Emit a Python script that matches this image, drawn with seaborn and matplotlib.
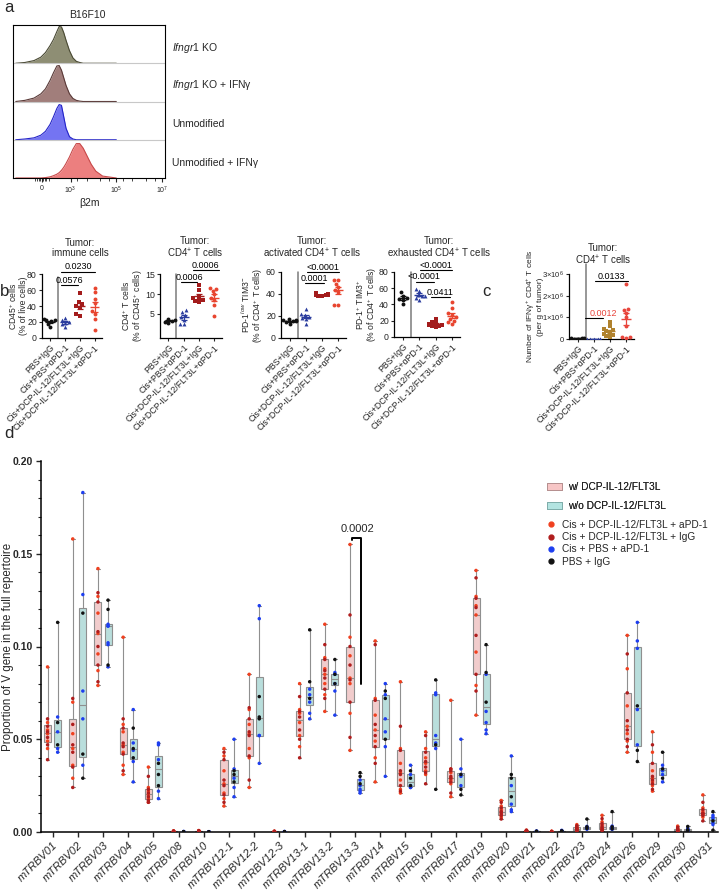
import numpy as np
import pandas as pd
import matplotlib
matplotlib.use("Agg")
import matplotlib.pyplot as plt
import seaborn as sns
from matplotlib.patches import Patch
from matplotlib.lines import Line2D
from matplotlib.ticker import AutoMinorLocator

sns.set_style("ticks")
plt.rcParams['font.family'] = ['Liberation Sans', 'DejaVu Sans']
plt.rcParams['mathtext.fontset'] = 'custom'
plt.rcParams['mathtext.rm'] = 'Liberation Sans'
plt.rcParams['mathtext.it'] = 'Liberation Sans:italic'
plt.rcParams['mathtext.bf'] = 'Liberation Sans:bold'

# ---------------- panel a: flow histograms (height as fraction of row) ----------------
hist_x = [0.6, 1.0, 1.4, 1.7, 1.9, 2.1, 2.25, 2.4, 2.5, 2.6, 2.7, 2.8, 2.95, 3.1, 3.25,
          3.4, 3.55, 3.7, 3.9, 4.1, 4.4, 5.0]
hist_ko = [0, .02, .07, .16, .28, .46, .62, .83, .96, .95, .80, .60, .33, .14, .05, .02, 0, 0, 0, 0, 0, 0]
hist_ko_ifng = [0, .03, .09, .20, .33, .55, .75, .93, .94, .82, .62, .42, .20, .08, .03, .01, 0, 0, 0, 0, 0, 0]
hist_unmod = [0, .02, .05, .12, .22, .40, .60, .82, .92, .90, .60, .30, .08, .02, 0, 0, 0, 0, 0, 0, 0, 0]
hist_unmod_ifng = [0, 0, 0, 0, .01, .03, .06, .10, .14, .20, .28, .38, .55, .75, .90, .90, .78, .60, .36, .18, .05, 0]
hist_labels = [r"$\mathit{Ifngr1}$ KO", r"$\mathit{Ifngr1}$ KO + IFNγ", "Unmodified", "Unmodified + IFNγ"]
hist_ticks = ["0", r"$10^3$", r"$10^5$", r"$10^7$"]

# ---------------- panel b / c: scatter dot plots ----------------
groups = ["PBS+IgG", "Cis+PBS+αPD-1", "Cis+DCP-IL-12/FLT3L+IgG", "Cis+DCP-IL-12/FLT3L+αPD-1"]
cd45_live = [[24, 23, 22, 21, 18, 14], [25, 22, 20, 19, 17, 14],
             [56, 45, 42, 40, 38, 30, 28], [62, 57, 49, 44, 34, 30, 24, 10]]
cd4_cd45 = [[3.8, 3.5, 3.3, 3.1, 2.8], [6.0, 5.5, 4.8, 4.3, 3.5, 2.5, 2.4],
            [12.3, 10.9, 9.3, 8.9, 8.5, 8.2, 8.0], [11.6, 11.3, 10.8, 9.9, 9.0, 8.5, 7.2, 4.6]]
activated = [[17, 16.5, 16, 15.5, 15, 14.5, 12.5], [26, 22, 21, 19.5, 18, 17, 13],
             [40.5, 40, 39.5, 39, 38.8, 38.5, 38], [53, 53, 49, 46, 44, 42, 30, 30]]
exhausted = [[55, 51, 48, 47, 46, 40], [59, 57, 52, 51, 50, 48, 46],
             [22, 18, 17, 16, 15, 15, 14, 13, 12], [43, 36, 29, 27, 24, 22, 20, 18, 16]]
ifng_cd4 = [[0.06e6, 0.04e6, 0.03e6, 0.02e6, 0.01e6], [0.01e6, 0.005e6, 0, 0, 0, 0.01e6],
            [0.80e6, 0.60e6, 0.45e6, 0.40e6, 0.35e6, 0.30e6, 0.25e6, 0.20e6, 0.15e6, 0.10e6],
            [2.55e6, 1.40e6, 1.35e6, 1.20e6, 1.00e6, 0.60e6, 0.08e6, 0.08e6, 0.05e6]]

# ---------------- panel d: V gene usage (values x 1e-3) ----------------
genes = ["mTRBV01", "mTRBV02", "mTRBV03", "mTRBV04", "mTRBV05", "mTRBV08", "mTRBV10",
         "mTRBV12-1", "mTRBV12-2", "mTRBV12-3", "mTRBV13-1", "mTRBV13-2", "mTRBV13-3",
         "mTRBV14", "mTRBV15", "mTRBV16", "mTRBV17", "mTRBV19", "mTRBV20", "mTRBV21",
         "mTRBV22", "mTRBV23", "mTRBV24", "mTRBV26", "mTRBV29", "mTRBV30", "mTRBV31"]
dcp_apd1 = [
    [89, 59, 55, 53, 49, 45], [158, 70, 53, 45, 36, 29], [142, 127, 118, 107, 96, 87, 79],
    [105, 58, 54, 47, 43, 36, 31], [35, 24, 22, 20, 18, 16], [0.6, 0.4, 0.3, 0.2, 0.2, 0.1],
    [0.8, 0.6, 0.4, 0.3, 0.2, 0.1], [45, 41, 33, 26, 21, 18, 14], [85, 66, 58, 53, 45, 40, 24],
    [0.4, 0.3, 0.2, 0.2, 0.1, 0.1], [80, 66, 64, 59, 52, 46], [112, 94, 88, 85, 80, 74, 65],
    [155, 105, 95, 83, 80, 64, 44], [103, 72, 63, 55, 49, 40, 27], [81, 45, 37, 32, 28, 23, 21],
    [54, 45, 40, 37, 33, 31], [71, 34, 32, 29, 28, 26, 19], [141, 127, 122, 117, 97, 79, 63],
    [17, 14, 12, 11, 9, 8], [1.0, 0.8, 0.6, 0.5, 0.4, 0.3], [0.4, 0.3, 0.2, 0.2, 0.1, 0.1],
    [4.0, 2.8, 2.2, 1.6, 1.2, 0.8], [9.0, 5.5, 3.8, 2.4, 1.6, 1.0], [106, 88, 68, 57, 53, 49, 43],
    [54, 43, 33, 29, 27, 25, 22], [3.2, 2.0, 1.5, 1.0, 0.6, 0.3], [20, 13, 11, 10, 9, 8]]
dcp_igg = [
    [61, 57, 54, 51, 47, 39], [72, 58, 47, 43, 35, 24], [129, 124, 108, 100, 90, 81],
    [61, 56, 48, 46, 42, 33], [30, 23, 21, 19, 17, 16], [0.5, 0.4, 0.3, 0.2, 0.1, 0.1],
    [0.7, 0.5, 0.4, 0.3, 0.2, 0.1], [43, 39, 28, 25, 20, 16], [67, 61, 54, 52, 41, 28],
    [0.4, 0.3, 0.2, 0.1, 0.1, 0.1], [73, 65, 62, 55, 50, 40], [101, 93, 87, 83, 77, 72],
    [117, 100, 90, 82, 70, 51], [101, 71, 58, 52, 46, 37], [57, 44, 33, 31, 25, 22],
    [52, 43, 38, 35, 32, 26], [34, 33, 30, 29, 27, 21], [137, 126, 121, 106, 85, 76],
    [16, 13, 11, 10, 9, 7], [0.9, 0.7, 0.6, 0.4, 0.3, 0.2], [0.3, 0.2, 0.2, 0.1, 0.1, 0.0],
    [3.4, 2.5, 1.8, 1.4, 1.0, 0.6], [7.2, 4.5, 3.0, 2.0, 1.3, 0.8], [96, 75, 60, 55, 50, 46],
    [47, 37, 30, 28, 26, 23], [2.5, 1.8, 1.2, 0.8, 0.5, 0.2], [16, 12, 10, 10, 9, 6]]
pbs_apd1 = [
    [62, 54, 45, 43], [183, 128, 76, 61, 36], [112, 111, 111, 102, 101, 89], [66, 48, 44, 38, 27],
    [48, 47, 39, 22, 18], [0.3, 0.2, 0.1, 0.1], [0.2, 0.1, 0.1, 0.0], [50, 34, 29, 24, 19],
    [122, 115, 52, 52, 37], [0.3, 0.2, 0.1, 0.1], [77, 74, 70, 64, 61], [86, 85, 80, 76, 63],
    [28, 25, 23, 22, 21], [80, 74, 61, 54, 46, 30], [36, 31, 25, 24, 24], [75, 74, 52, 48, 45],
    [50, 34, 31, 30, 25], [85, 65, 59, 55, 53], [41, 25, 15, 12, 11], [0.5, 0.4, 0.3, 0.2],
    [0.9, 0.7, 0.5, 0.4], [3.0, 2.5, 2.2, 1.8, 1.5], [3.2, 2.6, 2.2, 1.8, 1.4],
    [113, 103, 99, 66, 47], [36, 34, 33, 31, 27], [2.0, 1.5, 1.0, 0.6], [9, 8, 7, 5, 4]]
pbs_igg = [
    [113, 59, 47], [118, 42, 29], [125, 120, 90], [56, 45, 40], [37, 31, 25], [0.2, 0.1, 0.1],
    [0.1, 0.1, 0.0], [33, 31, 27], [73, 62, 61], [0.2, 0.1, 0.1], [109, 81, 72], [93, 85, 80],
    [32, 30, 26], [76, 72, 50], [33, 29, 25], [82, 47, 23], [31, 23, 20], [101, 86, 70],
    [31, 29, 19], [0.4, 0.3, 0.2], [0.6, 0.5, 0.3], [7.0, 2.8, 1.9], [11.0, 2.8, 1.7],
    [68, 44, 38], [43, 34, 29], [3.0, 1.2, 0.5], [11, 6, 1]]

W, H = 722, 894


def px_box(x0, y0, x1, y1):
    return [x0 / W, 1 - y1 / H, (x1 - x0) / W, (y1 - y0) / H]


fig = plt.figure(figsize=(7.22, 8.94), dpi=100)


def ftext(x, y, s, **kw):
    kw.setdefault("va", "center")
    fig.text(x / W, 1 - y / H, s, **kw)


# panel letters
for letter, x, y in [("a", 4, 7), ("b", 0, 291), ("c", 482, 291), ("d", 4, 433)]:
    ftext(x, y, letter, fontsize=12)

# ---------------- panel a ----------------
ax_a = fig.add_axes(px_box(13, 25, 165, 178))
hist_rows = [(hist_ko, "#8e8e74", "#4a4a34"), (hist_ko_ifng, "#a17e7b", "#5a3a38"),
             (hist_unmod, "#7474f2", "#2424c8"), (hist_unmod_ifng, "#ec7f7f", "#c84a4a")]
for k, (vals, fc, ec) in enumerate(hist_rows):
    base = 3 - k
    top = base + np.array(vals)
    ax_a.fill_between(hist_x, base, top, color=fc, lw=0)
    ax_a.plot(hist_x, top, color=ec, lw=0.8)
    if k < 3:
        ax_a.axhline(base, color="#c8c8c8", lw=0.8)
ax_a.set_xlim(0.48, 7.13)
ax_a.set_ylim(0, 4)
ax_a.set_yticks([])
ax_a.set_xticks([1.74, 3, 5, 7])
ax_a.set_xticklabels(hist_ticks, fontsize=5)
minor = [1.45, 1.55, 1.62, 1.68, 1.8, 1.86, 1.93, 2.05] + \
        [d + np.log10(m) for d in (3, 4, 5, 6) for m in (2, 5)]
ax_a.set_xticks(minor, minor=True)
ax_a.tick_params(axis="x", which="major", length=3, width=0.8, pad=2)
ax_a.tick_params(axis="x", which="minor", length=1.8, width=0.6)
for s in ax_a.spines.values():
    s.set_linewidth(0.8)
    s.set_color("black")
ftext(87, 15, "B16F10", fontsize=7.5, ha="center")
ftext(89, 203, "β2m", fontsize=7.5, ha="center")
for lab, y in zip(hist_labels, [48, 85, 124, 163]):
    ftext(172, y, lab, fontsize=7.5)

# ---------------- panel b / c ----------------
dot_colors = ["#111111", "#2a3c9e", "#a31c1c", "#e8452f"]
dot_markers = ["o", "^", "s", "o"]


def dot_panel(ax, values, colors, ylim, yticks, yticklabels, ylabel, sigs, lab_dx, width_px,
              sep_top=1.0):
    df = pd.DataFrame([(groups[i], v) for i, vals in enumerate(values) for v in vals],
                      columns=["group", "value"])
    for i, g in enumerate(groups):
        sns.swarmplot(data=df[df.group == g], x="group", y="value", order=groups,
                      color=colors[i], marker=dot_markers[i], size=2.8, ax=ax)
        m = np.mean(values[i])
        se = np.std(values[i], ddof=1) / np.sqrt(len(values[i]))
        ax.hlines(m, i - 0.32, i + 0.32, color=colors[i], lw=1, zorder=5)
        ax.errorbar(i, m, yerr=se, color=colors[i], capsize=2.2, lw=0.9, capthick=0.9, zorder=5)
    ax.set_xlim(-0.55, 3.5)
    ax.set_ylim(*ylim)
    ax.set_yticks(yticks)
    ax.set_yticklabels(yticklabels, fontsize=6.3)
    ax.set_xticks(range(4))
    ax.set_xticklabels(groups, rotation=45, ha="right", rotation_mode="anchor", fontsize=6.3)
    ax.tick_params(length=2.5, width=0.8, pad=1.2)
    ax.set_xlabel("")
    ax.set_ylabel(ylabel, fontsize=6.2, linespacing=0.95)
    ax.yaxis.set_label_coords(lab_dx / width_px, 0.5)
    sns.despine(ax=ax)
    for s in ax.spines.values():
        s.set_linewidth(0.9)
        s.set_color("black")
    ax.axvline(0.5, ymin=0, ymax=sep_top, color="#7a7a7a", lw=1.1, clip_on=False)
    for txt, x1, x2, y, col, tx in sigs:
        ax.plot([x1, x2], [y, y], color="black", lw=0.8, clip_on=False)
        ax.annotate(txt, xy=(tx, y), xytext=(0, 0.3), textcoords="offset points",
                    ha="center", va="bottom", fontsize=6.5, color=col, annotation_clip=False)


ax_b1 = fig.add_axes(px_box(42, 274, 102, 338))
dot_panel(ax_b1, cd45_live, dot_colors, (0, 80), [0, 20, 40, 60, 80], ["0", "20", "40", "60", "80"],
          "CD45$^{+}$ cells\n(% of live cells)",
          [("0.0230", 0.7, 3.05, 83, "black", 1.9), ("0.0576", 0.7, 1.85, 66, "black", 1.3)],
          -14, 60, sep_top=0.96)
ax_b2 = fig.add_axes(px_box(160, 274, 222, 338))
dot_panel(ax_b2, cd4_cd45, dot_colors, (-1, 15), [5, 10, 15], ["5", "10", "15"],
          "CD4$^{+}$ T cells\n(% of CD45$^{+}$ cells)",
          [("0.0006", 1.6, 3.3, 16, "black", 2.45), ("0.0006", 0.85, 1.85, 13, "black", 1.35)],
          -15, 62)
ax_b3 = fig.add_axes(px_box(281, 272, 346, 338))
dot_panel(ax_b3, activated, dot_colors, (0, 60), [0, 20, 40, 60], ["0", "20", "40", "60"],
          "PD-1$^{low}$ TIM3$^{-}$\n(% of CD4$^{+}$ T cells)",
          [("<0.0001", 1.1, 3.05, 60, "black", 2.05), ("0.0001", 0.95, 2.1, 50, "black", 1.5)],
          -16, 65)
ax_b4 = fig.add_axes(px_box(394, 272, 460, 337))
dot_panel(ax_b4, exhausted, dot_colors, (0, 80), [0, 20, 40, 60, 80], ["0", "20", "40", "60", "80"],
          "PD-1$^{+}$ TIM3$^{+}$\n(% of CD4$^{+}$ T cells)",
          [("<0.0001", 1.05, 3.0, 82.5, "black", 2.0), ("<0.0001", 0.8, 1.9, 68, "black", 1.3),
           ("0.0411", 1.75, 2.9, 49, "black", 2.3)],
          -15, 66)
ax_c = fig.add_axes(px_box(569, 274, 634, 339))
dot_panel(ax_c, ifng_cd4, ["#111111", "#2a3c9e", "#b0822e", "#e8453c"], (0, 3e6),
          [0, 1e6, 2e6, 3e6], ["0", "1×10$^{6}$", "2×10$^{6}$", "3×10$^{6}$"],
          "Number of IFNγ$^{+}$ CD4$^{+}$ T cells\n(per g of tumor)",
          [("0.0133", 1.1, 3.1, 2.68e6, "black", 2.1), ("0.0012", 0.45, 1.55, 0.97e6, "#e8453c", 1.6)],
          -25, 65, sep_top=1.16)
ax_c.tick_params(axis="y", labelsize=5.5)
ax_c.yaxis.label.set_size(6)

for x, s in [(80, "Tumor:\nimmune cells"), (195, "Tumor:\nCD4$^{+}$ T cells"),
             (312, "Tumor:\nactivated CD4$^{+}$ T cells"), (439, "Tumor:\nexhausted CD4$^{+}$ T cells")]:
    ftext(x, 248, s, fontsize=7, ha="center", linespacing=1.1)
ftext(603, 255, "Tumor:\nCD4$^{+}$ T cells", fontsize=7, ha="center", linespacing=1.1)

# ---------------- panel d ----------------
pink, cyan = "#f7c6c6", "#b3e4e1"
treat_colors = {"Cis + DCP-IL-12/FLT3L + aPD-1": "#f0401f", "Cis + DCP-IL-12/FLT3L + IgG": "#b01d1d",
                "Cis + PBS + aPD-1": "#1d3ef0", "PBS + IgG": "#111111"}
sets = [("Cis + DCP-IL-12/FLT3L + aPD-1", "w/", dcp_apd1), ("Cis + DCP-IL-12/FLT3L + IgG", "w/", dcp_igg),
        ("Cis + PBS + aPD-1", "w/o", pbs_apd1), ("PBS + IgG", "w/o", pbs_igg)]
rows = []
for gi, g in enumerate(genes):
    for treat, dcp, vals in sets:
        for v in vals[gi]:
            rows.append((g, dcp, treat, v / 1000))
df_d = pd.DataFrame(rows, columns=["gene", "dcp", "treat", "value"])

ax_d = fig.add_axes(px_box(41, 461, 718, 832))
sns.boxplot(data=df_d, x="gene", y="value", hue="dcp", order=genes, hue_order=["w/", "w/o"],
            palette=[pink, cyan], whis=(0, 100), showfliers=False, width=0.8, gap=0.3,
            linecolor="#8f8f8f", linewidth=0.8, legend=False, ax=ax_d)
for treat, col in treat_colors.items():
    sns.stripplot(data=df_d[df_d.treat == treat], x="gene", y="value", hue="dcp", order=genes,
                  hue_order=["w/", "w/o"], palette=[col, col], dodge=True, jitter=False,
                  size=2.5, legend=False, ax=ax_d)
ax_d.set_xlim(-0.46, 26.4)
ax_d.set_ylim(0, 0.20)
ax_d.set_yticks([0, 0.05, 0.10, 0.15, 0.20])
ax_d.set_yticklabels(["0.00", "0.05", "0.10", "0.15", "0.20"], fontsize=7.5, fontweight="bold")
ax_d.yaxis.set_minor_locator(AutoMinorLocator(5))
ax_d.set_xticks(range(len(genes)))
ax_d.set_xticklabels(genes, rotation=45, ha="right", rotation_mode="anchor", fontsize=8, style="italic")
ax_d.tick_params(axis="both", which="major", length=3.5, width=1, pad=2)
ax_d.tick_params(axis="y", which="minor", length=2, width=0.8)
ax_d.set_xlabel("")
ax_d.set_ylabel("Proportion of V gene in the full repertoire", fontsize=8.3)
ax_d.yaxis.set_label_coords(-27 / 677, 0.5)
sns.despine(ax=ax_d)
for s in ax_d.spines.values():
    s.set_linewidth(1.1)
    s.set_color("black")

# significance bracket mTRBV13-3
i133 = genes.index("mTRBV13-3")
ax_d.plot([i133 - 0.13, i133 - 0.13, i133 + 0.24, i133 + 0.24], [0.1575, 0.1586, 0.1586, 0.080],
          color="black", lw=1.4)
ax_d.text(i133 + 0.08, 0.1605, "0.0002", ha="center", va="bottom", fontsize=8)

# legends
leg1 = fig.legend(handles=[Patch(facecolor=pink, edgecolor="#b08a8a", lw=0.6),
                           Patch(facecolor=cyan, edgecolor="#7aa8a5", lw=0.6)],
                  labels=["w/ DCP-IL-12/FLT3L", "w/o DCP-IL-12/FLT3L"],
                  loc="upper left", bbox_to_anchor=(547 / W, 1 - 482 / H), frameon=False,
                  fontsize=7.3, handlelength=1.45, handleheight=0.8, handletextpad=0.6,
                  labelspacing=0.9, borderpad=0, borderaxespad=0)
fig.add_artist(leg1)
dot_handles = [Line2D([], [], ls="", marker="o", ms=3.5, color=c) for c in treat_colors.values()]
fig.legend(handles=dot_handles, labels=list(treat_colors.keys()), loc="upper left",
           bbox_to_anchor=(546 / W, 1 - 520 / H), frameon=False, fontsize=7.3, handlelength=1.0,
           handletextpad=0.6, labelspacing=0.22, borderpad=0, borderaxespad=0)

fig.savefig("out.png", dpi=100)
